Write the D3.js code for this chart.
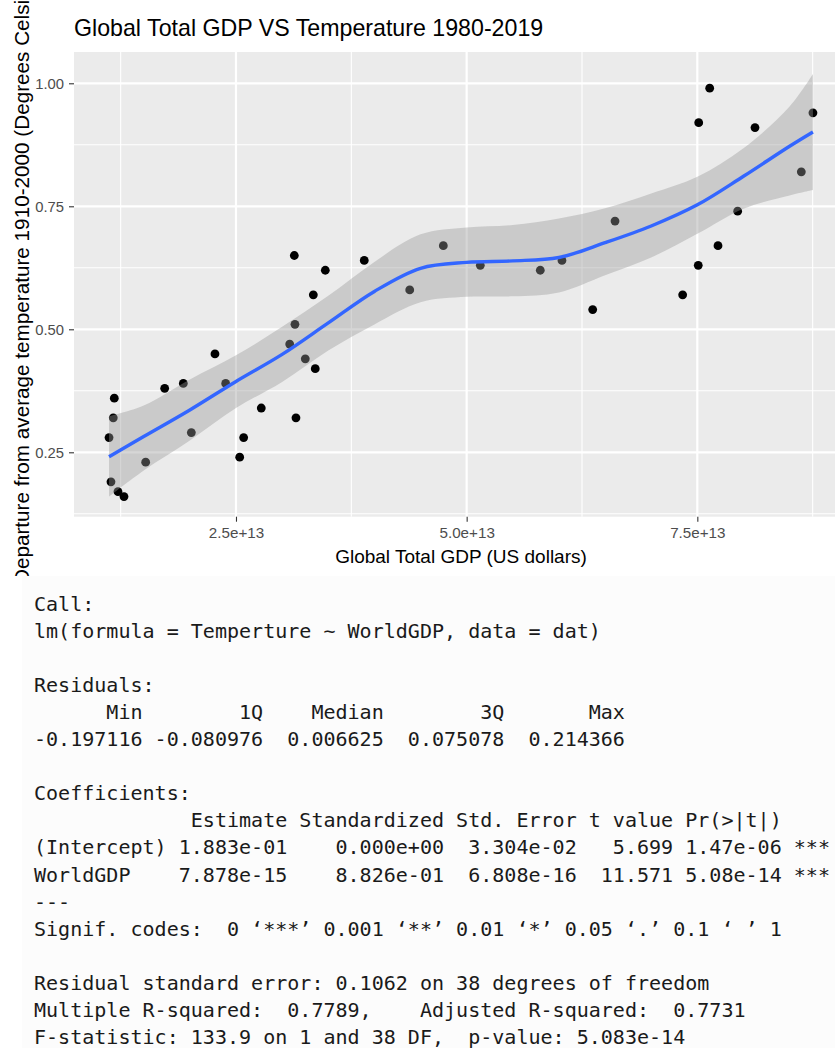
<!DOCTYPE html>
<html>
<head>
<meta charset="utf-8">
<script src="https://cdn.jsdelivr.net/npm/d3@7"></script>
<style>
  body { margin: 0; background: #fff; }
  svg { display: block; }
</style>
</head>
<body>
<div id="chart"></div>
<script>
// points, sorted by GDP
const gdp = [1.124e13, 1.145e13, 1.170e13, 1.181e13, 1.221e13, 1.286e13, 1.521e13, 1.727e13, 1.929e13, 2.016e13,
    2.272e13, 2.388e13, 2.540e13, 2.583e13, 2.774e13, 3.082e13, 3.132e13, 3.139e13, 3.150e13, 3.251e13,
    3.338e13, 3.359e13, 3.468e13, 3.890e13, 4.383e13, 4.747e13, 5.148e13, 5.798e13, 6.033e13, 6.366e13,
    6.608e13, 7.341e13, 7.510e13, 7.515e13, 7.634e13, 7.724e13, 7.937e13, 8.125e13, 8.627e13, 8.753e13];
const temperature = [0.28, 0.19, 0.32, 0.36, 0.17, 0.16, 0.23, 0.38, 0.39, 0.29,
    0.45, 0.39, 0.24, 0.28, 0.34, 0.47, 0.65, 0.51, 0.32, 0.44,
    0.57, 0.42, 0.62, 0.64, 0.58, 0.67, 0.63, 0.62, 0.64, 0.54,
    0.72, 0.57, 0.63, 0.92, 0.99, 0.67, 0.74, 0.91, 0.82, 0.94];

// loess smooth + confidence band
const smoothGdp = [1.124e13, 1.5e13, 2.0e13, 2.5e13, 3.0e13, 3.5e13, 4.0e13, 4.5e13, 5.0e13,
    5.5e13, 6.0e13, 6.5e13, 7.0e13, 7.5e13, 8.0e13, 8.5e13, 8.753e13];
const smoothFit = [0.241, 0.282, 0.336, 0.394, 0.449, 0.513, 0.577, 0.624, 0.636,
    0.639, 0.646, 0.676, 0.710, 0.753, 0.811, 0.872, 0.901];
const smoothLo = [0.160, 0.213, 0.274, 0.340, 0.393, 0.457, 0.510, 0.555, 0.566,
    0.567, 0.575, 0.610, 0.646, 0.694, 0.745, 0.772, 0.783];
const smoothHi = [0.323, 0.345, 0.398, 0.447, 0.505, 0.568, 0.637, 0.693, 0.707,
    0.712, 0.725, 0.746, 0.776, 0.810, 0.868, 0.953, 1.019];

const xMajor = [2.5e13, 5.0e13, 7.5e13];
const xMinor = [1.25e13, 3.75e13, 6.25e13, 8.75e13];
const yMajor = [0.25, 0.50, 0.75, 1.00];
const yMinor = [0.125, 0.375, 0.625, 0.875];

const consoleLines = [
    'Call:',
    'lm(formula = Temperture ~ WorldGDP, data = dat)',
    '',
    'Residuals:',
    '      Min        1Q    Median        3Q       Max ',
    '-0.197116 -0.080976  0.006625  0.075078  0.214366 ',
    '',
    'Coefficients:',
    '             Estimate Standardized Std. Error t value Pr(>|t|)    ',
    '(Intercept) 1.883e-01    0.000e+00  3.304e-02   5.699 1.47e-06 ***',
    'WorldGDP    7.878e-15    8.826e-01  6.808e-16  11.571 5.08e-14 ***',
    '---',
    'Signif. codes:  0 \u2018***\u2019 0.001 \u2018**\u2019 0.01 \u2018*\u2019 0.05 \u2018.\u2019 0.1 \u2018 \u2019 1',
    '',
    'Residual standard error: 0.1062 on 38 degrees of freedom',
    'Multiple R-squared:  0.7789,    Adjusted R-squared:  0.7731 ',
    'F-statistic: 133.9 on 1 and 38 DF,  p-value: 5.083e-14'
];

function draw() {
    const dimensions = {
        width: 835,
        height: 1048,
        panelLeft: 74,
        panelRight: 848, // panel runs past the right edge, like the screenshot
        panelTop: 52,
        panelBottom: 516.7,
        consoleTop: 576
    }

    const sans = "'Liberation Sans', Arial, Helvetica, sans-serif";
    const mono = "'DejaVu Sans Mono', 'Liberation Mono', monospace";

    const points = gdp.map((g, i) => ({ x: g, y: temperature[i] }));
    const smooth = smoothGdp.map((g, i) => ({ x: g, fit: smoothFit[i], lo: smoothLo[i], hi: smoothHi[i] }));

    // Scales
    const xScale = d3.scaleLinear()
        .domain([0.7443e13, 9.133e13])
        .range([dimensions.panelLeft, dimensions.panelRight])

    const yScale = d3.scaleLinear()
        .domain([0.1191, 1.0636])
        .range([dimensions.panelBottom, dimensions.panelTop])

    const svg = d3.select('#chart')
        .append('svg')
        .attr('width', dimensions.width)
        .attr('height', dimensions.height)

    // Panel background + grid
    svg.append('rect')
        .attr('x', dimensions.panelLeft)
        .attr('y', dimensions.panelTop)
        .attr('width', dimensions.panelRight - dimensions.panelLeft)
        .attr('height', dimensions.panelBottom - dimensions.panelTop)
        .attr('fill', '#ebebeb')

    const grid = svg.append('g')
    grid.selectAll('.vminor').data(xMinor).join('line')
        .attr('x1', d => xScale(d)).attr('x2', d => xScale(d))
        .attr('y1', dimensions.panelTop).attr('y2', dimensions.panelBottom)
        .attr('stroke', '#fff').attr('stroke-width', 1.1)
    grid.selectAll('.hminor').data(yMinor).join('line')
        .attr('x1', dimensions.panelLeft).attr('x2', dimensions.panelRight)
        .attr('y1', d => yScale(d)).attr('y2', d => yScale(d))
        .attr('stroke', '#fff').attr('stroke-width', 1.1)
    grid.selectAll('.vmajor').data(xMajor).join('line')
        .attr('x1', d => xScale(d)).attr('x2', d => xScale(d))
        .attr('y1', dimensions.panelTop).attr('y2', dimensions.panelBottom)
        .attr('stroke', '#fff').attr('stroke-width', 2.2)
    grid.selectAll('.hmajor').data(yMajor).join('line')
        .attr('x1', dimensions.panelLeft).attr('x2', dimensions.panelRight)
        .attr('y1', d => yScale(d)).attr('y2', d => yScale(d))
        .attr('stroke', '#fff').attr('stroke-width', 2.2)

    // Points (drawn under the ribbon, so the ones inside the band look grey)
    svg.append('g')
        .selectAll('circle')
        .data(points)
        .join('circle')
        .attr('cx', d => xScale(d.x))
        .attr('cy', d => yScale(d.y))
        .attr('r', 4.4)
        .attr('fill', '#000')

    // Confidence band
    const band = d3.area()
        .x(d => xScale(d.x))
        .y0(d => yScale(d.lo))
        .y1(d => yScale(d.hi))
        .curve(d3.curveCatmullRom)

    svg.append('path')
        .datum(smooth)
        .attr('d', band)
        .attr('fill', '#999999')
        .attr('fill-opacity', 0.4)

    const fitLine = d3.line()
        .x(d => xScale(d.x))
        .y(d => yScale(d.fit))
        .curve(d3.curveCatmullRom)

    svg.append('path')
        .datum(smooth)
        .attr('d', fitLine)
        .attr('fill', 'none')
        .attr('stroke', '#3366ff')
        .attr('stroke-width', 3.4)

    // Axes
    const xAxis = d3.axisBottom(xScale)
        .tickValues(xMajor)
        .tickSize(5)
        .tickFormat(d3.format('.1e'))

    const xAxisGroup = svg.append('g')
        .attr('transform', `translate(0, ${dimensions.panelBottom})`)
        .call(xAxis)
    xAxisGroup.select('.domain').remove()
    xAxisGroup.selectAll('line').attr('stroke', '#333').attr('stroke-width', 1.1)
    xAxisGroup.selectAll('text')
        .attr('y', 21.5)
        .attr('dy', 0)
        .attr('fill', '#4d4d4d')
        .style('font-family', sans)
        .style('font-size', '15.2px')

    const yAxis = d3.axisLeft(yScale)
        .tickValues(yMajor)
        .tickSize(5)
        .tickPadding(5)
        .tickFormat(d3.format('.2f'))

    const yAxisGroup = svg.append('g')
        .attr('transform', `translate(${dimensions.panelLeft}, 0)`)
        .call(yAxis)
    yAxisGroup.select('.domain').remove()
    yAxisGroup.selectAll('line').attr('stroke', '#333').attr('stroke-width', 1.1)
    yAxisGroup.selectAll('text')
        .attr('fill', '#4d4d4d')
        .style('font-family', sans)
        .style('font-size', '14.8px')

    // Titles
    svg.append('text')
        .attr('x', dimensions.panelLeft)
        .attr('y', 36)
        .style('font-family', sans)
        .style('font-size', '23.2px')
        .attr('fill', '#000')
        .text('Global Total GDP VS Temperature 1980-2019')

    svg.append('text')
        .attr('x', (dimensions.panelLeft + dimensions.panelRight) / 2)
        .attr('y', 563)
        .attr('text-anchor', 'middle')
        .style('font-family', sans)
        .style('font-size', '19px')
        .attr('fill', '#000')
        .text('Global Total GDP (US dollars)')

    svg.append('text')
        .attr('transform', `translate(29, 277.6) rotate(-90)`)
        .attr('text-anchor', 'middle')
        .style('font-family', sans)
        .style('font-size', '20.7px')
        .attr('fill', '#000')
        .text('Departure from average temperature 1910-2000 (Degrees Celsius)')

    // R console output pasted below the plot
    svg.append('rect')
        .attr('x', 0)
        .attr('y', dimensions.consoleTop)
        .attr('width', dimensions.width)
        .attr('height', dimensions.height - dimensions.consoleTop)
        .attr('fill', '#fff')
    svg.append('rect')
        .attr('x', 22)
        .attr('y', dimensions.consoleTop)
        .attr('width', dimensions.width - 22)
        .attr('height', dimensions.height - dimensions.consoleTop)
        .attr('fill', '#fcfcfc')

    svg.append('g')
        .selectAll('text')
        .data(consoleLines)
        .join('text')
        .attr('x', 34)
        .attr('y', (d, i) => 610.5 + i * 27.1)
        .attr('fill', '#1a1a1a')
        .style('font-family', mono)
        .style('font-size', '20.05px')
        .style('white-space', 'pre')
        .text(d => d)
}

draw()
</script>
</body>
</html>
